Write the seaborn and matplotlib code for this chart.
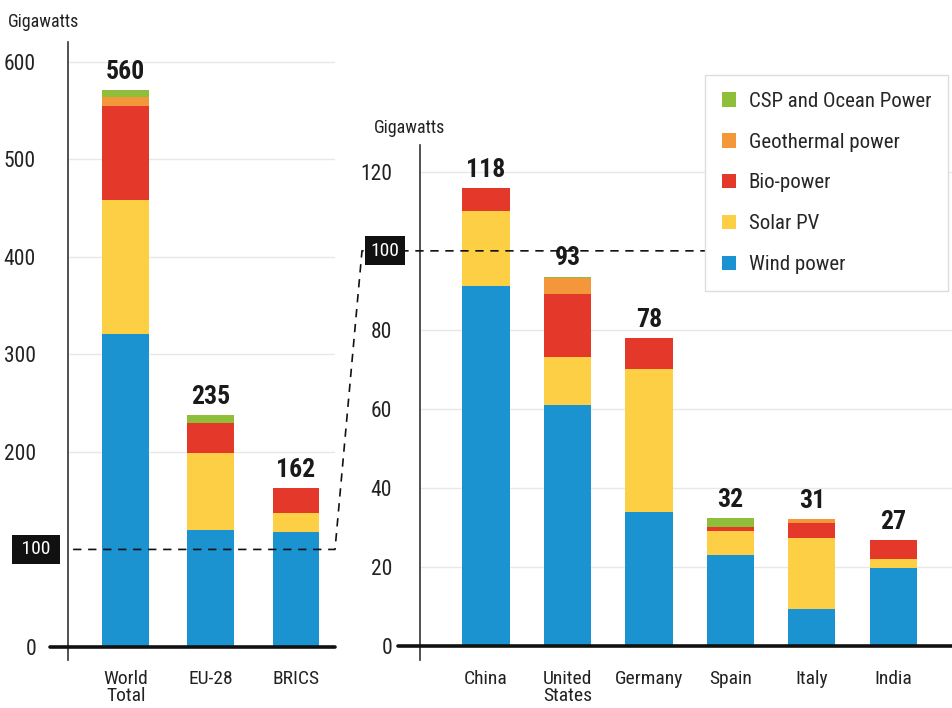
import matplotlib
matplotlib.use("Agg")
import matplotlib.pyplot as plt
from matplotlib.lines import Line2D
from matplotlib.patches import Patch
import seaborn as sns

# left panel: world / regions (GW)
cats_left = ["World\nTotal", "EU-28", "BRICS"]
wind_left = [321, 120, 118]
solar_left = [137, 79, 19]
bio_left = [96, 31, 26]
geo_left = [10, 0, 0]
csp_left = [7, 8, 0]
totals_left = [560, 235, 162]

# right panel: top countries (GW)
cats_right = ["China", "United\nStates", "Germany", "Spain", "Italy", "India"]
wind_right = [91, 61, 34, 23, 9.3, 19.8]
solar_right = [19, 12, 36, 6, 18, 2.3]
bio_right = [6, 16, 8, 1, 3.8, 4.7]
geo_right = [0, 4, 0, 0, 0.9, 0]
csp_right = [0, 0.5, 0, 2.3, 0, 0]
totals_right = [118, 93, 78, 32, 31, 27]

series_names = ["Wind power", "Solar PV", "Bio-power", "Geothermal power", "CSP and Ocean Power"]
colors = ["#1b93d1", "#fccf45", "#e4382a", "#f3973a", "#8fbf3a"]

sns.set_style("white")
plt.rcParams['font.family'] = ['Roboto Condensed', 'Roboto', 'DejaVu Sans']

fig = plt.figure(figsize=(9.52, 7.08), dpi=100)
W, H = 952, 708


def px_axes(x0, y0, x1, y1):
    # pixel box (top-left origin) -> figure fraction
    return fig.add_axes([x0 / W, 1 - y1 / H, (x1 - x0) / W, (y1 - y0) / H])


ax_l = px_axes(68, 42, 335, 660)
ax_r = px_axes(420, 145, 952, 660)


def stacked(ax, cats, layers, width):
    # cumulative sums drawn from the top down, each one covering the next
    cums = []
    run = [0] * len(cats)
    for layer in layers:
        run = [a + b for a, b in zip(run, layer)]
        cums.append(run)
    for cum, c in reversed(list(zip(cums, colors))):
        sns.barplot(x=cats, y=cum, color=c, ax=ax, width=width,
                    saturation=1, errorbar=None, linewidth=0, zorder=2)
    return cums[-1]


tops_l = stacked(ax_l, cats_left, [wind_left, solar_left, bio_left, geo_left, csp_left], 0.55)
tops_r = stacked(ax_r, cats_right, [wind_right, solar_right, bio_right, geo_right, csp_right], 0.58)

ax_l.set_xlim(-0.68, 2.46)
ax_l.set_ylim(-13.3, 620)
ax_r.set_xlim(-0.81, 5.72)
ax_r.set_ylim(-3.6, 126.8)

for ax, ticks, pad in [(ax_l, [0, 200, 300, 400, 500, 600], 23), (ax_r, [0, 20, 40, 60, 80, 120], 20)]:
    ax.set_yticks(ticks)
    ax.tick_params(axis='y', length=0, pad=pad, labelsize=15.5, labelcolor="#222222")
    ax.tick_params(axis='x', length=0, pad=7, labelsize=14, labelcolor="#222222")
    for t in ticks[1:]:
        ax.axhline(t, color="#e8e8e8", lw=1, zorder=0)
    for s in ["top", "right", "bottom"]:
        ax.spines[s].set_visible(False)
    ax.spines["left"].set_color("#333333")
    ax.spines["left"].set_linewidth(1.2)
    ax.set_xlabel("")
    ax.set_ylabel("")
    ax.set_facecolor("none")
    for lbl in ax.get_xticklabels():
        lbl.set_linespacing(0.95)

# thick zero baselines reaching past the y spine
ax_l.plot([-0.89, 2.46], [0, 0], color="#111111", lw=2.6, clip_on=False, zorder=4)
ax_r.plot([-1.08, 5.72], [0, 0], color="#111111", lw=2.6, clip_on=False, zorder=4)

for ax, tops, totals in [(ax_l, tops_l, totals_left), (ax_r, tops_r, totals_right)]:
    for i, (t, v) in enumerate(zip(tops, totals)):
        ax.annotate(str(v), (i, t), xytext=(0, 8), textcoords="offset points",
                    ha="center", va="baseline", fontsize=18.5, fontweight="bold",
                    color="#1a1a1a")

# dashed 100 GW line tying the two panels together
fig.canvas.draw()
inv = fig.transFigure.inverted()
p0 = ax_l.transData.transform((-0.62, 100))
p1 = ax_l.transData.transform((2.46, 100))
q1 = ax_r.transData.transform((5.72, 100))
p2 = (362, q1[1])
pts = inv.transform([p0, p1, p2, q1])
fig.lines.append(Line2D(pts[:, 0], pts[:, 1], transform=fig.transFigure,
                        color="#111111", lw=1.2, ls=(0, (5, 4)), zorder=2))

box = dict(boxstyle="square,pad=0.28", fc="#111111", ec="none")
fig.text(36 / W, inv.transform(p0)[1], " 100 ", color="white", fontsize=14,
         ha="center", va="center", bbox=box, zorder=4)
fig.text(385 / W, inv.transform(q1)[1], "100", color="white", fontsize=14,
         ha="center", va="center", bbox=box, zorder=4)

fig.text(8 / W, 1 - 22 / H, "Gigawatts", fontsize=13, color="#222222", va="center")
fig.text(374 / W, 1 - 128 / H, "Gigawatts", fontsize=13, color="#222222", va="center")

handles = [Patch(facecolor=c, edgecolor="none") for c in reversed(colors)]
fig.legend(handles, list(reversed(series_names)), loc="upper left",
           bbox_to_anchor=(705 / W, 1 - 75 / H), fontsize=15, frameon=True,
           fancybox=False, edgecolor="#dddddd", framealpha=1,
           handlelength=0.7, handleheight=0.7, handletextpad=0.6,
           labelspacing=1.05, borderpad=0.8, borderaxespad=0)

fig.savefig("out.png", dpi=100)
